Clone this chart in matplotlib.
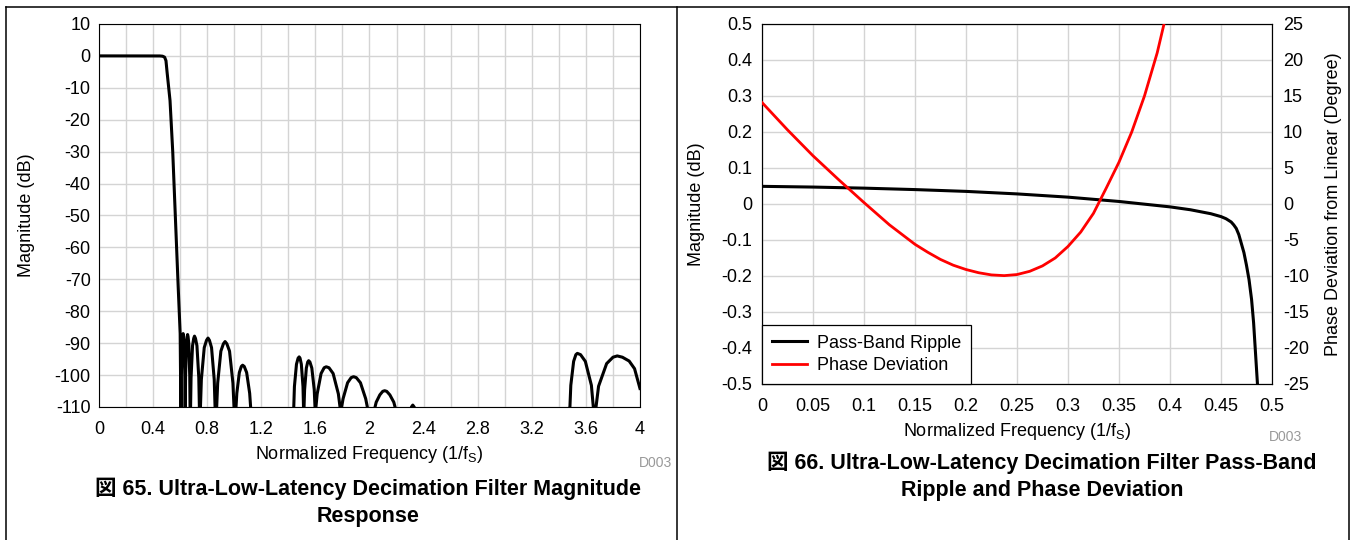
import matplotlib
matplotlib.use("Agg")
import matplotlib.pyplot as plt
from matplotlib.lines import Line2D

plt.rcParams['font.family'] = ['Liberation Sans', 'Noto Sans CJK JP', 'DejaVu Sans']
plt.rcParams['mathtext.fontset'] = 'custom'
plt.rcParams['mathtext.rm'] = 'Liberation Sans'

# --- figure 65: magnitude response ---
# -150 values are nulls that fall below the plotted range
mag_freq = [0, 0.1, 0.2, 0.3, 0.4, 0.45, 0.47, 0.485, 0.495, 0.503, 0.525, 0.545, 0.564, 0.585, 0.600, 0.605,
            0.606,
            0.607, 0.6088, 0.6145, 0.619, 0.622, 0.6248, 0.629, 0.6343, 0.636, 0.637,
            0.638, 0.640, 0.6465, 0.6516, 0.655, 0.6586, 0.664, 0.6708, 0.673, 0.675,
            0.677, 0.6805, 0.6915, 0.7002, 0.706, 0.7132, 0.724, 0.7377, 0.742, 0.746,
            0.750, 0.7567, 0.778, 0.7948, 0.806, 0.8164, 0.832, 0.8518, 0.858, 0.864,
            0.870, 0.8774, 0.901, 0.9196, 0.932, 0.9452, 0.965, 0.9901, 0.998, 1.005,
            1.013, 1.0189, 1.0375, 1.0522, 1.062, 1.0738, 1.0915, 1.1139, 1.121, 1.3,
            1.440, 1.4448, 1.460, 1.472, 1.480, 1.4864, 1.496, 1.5082, 1.512, 1.514,
            1.516, 1.5201, 1.533, 1.5432, 1.550, 1.5594, 1.5735, 1.5914, 1.597, 1.600,
            1.604, 1.6131, 1.642, 1.6648, 1.680, 1.7004, 1.731, 1.7698, 1.782, 1.788,
            1.794, 1.8046, 1.838, 1.8644, 1.882, 1.9024, 1.933, 1.9718, 1.984, 2.01,
            2.041, 2.0495, 2.0765, 2.0978, 2.112, 2.1274, 2.1505, 2.1798, 2.189, 2.25,
            2.310, 2.320, 2.330, 2.9,
            3.482, 3.4886, 3.5095, 3.526, 3.537, 3.5606, 3.596, 3.6408, 3.655, 3.665,
            3.675, 3.6938, 3.7535, 3.8006, 3.832, 3.87, 3.92, 3.96, 4.0]
mag_db = [0, 0, 0, 0, 0, -0.02, -0.1, -0.4, -1.5, -5, -14, -30, -50, -72, -87, -110,
          -150,
          -110, -100.0, -90.0, -87.7, -87.0, -87.7, -90.0, -100.0, -110, -150,
          -110, -100.3, -90.3, -88.0, -87.3, -88.0, -90.3, -100.3, -110, -150,
          -110, -100.8, -90.8, -88.5, -87.8, -88.5, -90.8, -100.8, -110, -150,
          -110, -101.4, -91.4, -89.1, -88.4, -89.1, -91.4, -101.4, -110, -150,
          -110, -102.5, -92.5, -90.2, -89.5, -90.2, -92.5, -102.5, -110, -150,
          -110, -105.7, -99.2, -97.3, -96.9, -97.3, -99.2, -105.7, -110, -150,
          -110, -103.6, -96.6, -94.7, -94.3, -94.7, -96.6, -103.6, -110, -150,
          -110, -104.6, -97.8, -95.9, -95.5, -95.9, -97.8, -104.6, -110, -150,
          -110, -105.9, -99.5, -97.7, -97.4, -97.7, -99.5, -105.9, -110, -150,
          -110, -107.4, -102.4, -100.8, -100.5, -100.8, -102.4, -107.4, -110, -150,
          -110, -108.5, -106.2, -105.1, -104.9, -105.1, -106.2, -108.5, -110, -150,
          -110, -109.4, -110, -150,
          -110, -103.2, -95.7, -93.6, -93.2, -93.6, -95.7, -103.2, -110, -150,
          -110, -103.5, -96.4, -94.4, -94.0, -94.4, -95.6, -98.0, -104.2]

mag_xticks = [0, 0.4, 0.8, 1.2, 1.6, 2.0, 2.4, 2.8, 3.2, 3.6, 4.0]
mag_xlabels = ['0', '0.4', '0.8', '1.2', '1.6', '2', '2.4', '2.8', '3.2', '3.6', '4']
mag_yticks = [10, 0, -10, -20, -30, -40, -50, -60, -70, -80, -90, -100, -110]

# --- figure 66: pass-band ripple and phase deviation ---
ripple_freq = [0, 0.05, 0.1, 0.15, 0.2, 0.25, 0.3, 0.35, 0.4, 0.42, 0.44, 0.45, 0.455, 0.46, 0.4625, 0.465,
               0.4675, 0.47, 0.4725, 0.475, 0.4775, 0.48, 0.482, 0.484, 0.486, 0.488]
ripple_db = [0.049, 0.047, 0.044, 0.040, 0.035, 0.028, 0.019, 0.007, -0.008, -0.016, -0.027, -0.035, -0.041,
             -0.05, -0.058, -0.068, -0.085, -0.11, -0.135, -0.17, -0.21, -0.265, -0.33, -0.42, -0.51, -0.6]

phase_freq = [0, 0.025, 0.05, 0.075, 0.1, 0.125, 0.15, 0.1625, 0.175, 0.1875, 0.2, 0.2125, 0.225, 0.2375,
              0.25, 0.2625, 0.275, 0.2875, 0.3, 0.3125, 0.325, 0.3375, 0.35, 0.3625, 0.375, 0.3875, 0.40]
phase_deg = [14.1, 10.3, 6.7, 3.4, 0.2, -2.9, -5.6, -6.7, -7.7, -8.5, -9.1, -9.55, -9.85, -9.95,
             -9.8, -9.35, -8.6, -7.5, -5.9, -3.9, -1.3, 2.2, 5.8, 10.0, 15.0, 21.0, 28.5]

rip_xticks = [0, 0.05, 0.1, 0.15, 0.2, 0.25, 0.3, 0.35, 0.4, 0.45, 0.5]
rip_xlabels = ['0', '0.05', '0.1', '0.15', '0.2', '0.25', '0.3', '0.35', '0.4', '0.45', '0.5']
rip_yticks = [0.5, 0.4, 0.3, 0.2, 0.1, 0, -0.1, -0.2, -0.3, -0.4, -0.5]
rip_ylabels = ['0.5', '0.4', '0.3', '0.2', '0.1', '0', '-0.1', '-0.2', '-0.3', '-0.4', '-0.5']
phase_yticks = [25, 20, 15, 10, 5, 0, -5, -10, -15, -20, -25]

fs = 13
grid_color = '#d4d4d4'
xlabel_text = 'Normalized Frequency (1/f$_\\mathregular{S}$)'

fig = plt.figure(figsize=(13.51, 5.40), dpi=100)

# left chart
ax1 = fig.add_axes([0.0733, 0.2463, 0.4004, 0.7093])
ax1.plot(mag_freq, mag_db, color='black', lw=2.2, solid_joinstyle='round', zorder=3)
ax1.set_xlim(0, 4)
ax1.set_ylim(-110, 10)
ax1.set_xticks(mag_xticks)
ax1.set_xticklabels(mag_xlabels)
ax1.set_xticks([0.2 + 0.4 * i for i in range(10)], minor=True)
ax1.set_yticks(mag_yticks)
ax1.set_yticklabels([str(v) for v in mag_yticks])
ax1.grid(True, which='both', color=grid_color, lw=1)
ax1.set_axisbelow(True)
ax1.tick_params(which='both', length=0, labelsize=fs)
ax1.tick_params(axis='x', pad=10)
ax1.tick_params(axis='y', pad=6)
ax1.set_xlabel(xlabel_text, fontsize=fs)
ax1.set_ylabel('Magnitude (dB)', fontsize=fs)
ax1.yaxis.set_label_coords(-0.118, 0.5)
ax1.xaxis.set_label_coords(0.5, -0.097)

# right chart
ax2 = fig.add_axes([0.5640, 0.2889, 0.3775, 0.6667])
l1, = ax2.plot(ripple_freq, ripple_db, color='black', lw=2.2, label='Pass-Band Ripple', zorder=3)
ax2.set_xlim(0, 0.5)
ax2.set_ylim(-0.5, 0.5)
ax2.set_xticks(rip_xticks)
ax2.set_xticklabels(rip_xlabels)
ax2.set_yticks(rip_yticks)
ax2.set_yticklabels(rip_ylabels)
ax2.grid(True, color=grid_color, lw=1)
ax2.set_axisbelow(True)
ax2.tick_params(length=0, labelsize=fs)
ax2.tick_params(axis='x', pad=10)
ax2.tick_params(axis='y', pad=7)
ax2.set_xlabel(xlabel_text, fontsize=fs)
ax2.set_ylabel('Magnitude (dB)', fontsize=fs)
ax2.yaxis.set_label_coords(-0.112, 0.5)
ax2.xaxis.set_label_coords(0.5, -0.103)

ax3 = ax2.twinx()
l2, = ax3.plot(phase_freq, phase_deg, color='#ff0000', lw=2.0, label='Phase Deviation', zorder=3)
ax3.set_ylim(-25, 25)
ax3.set_yticks(phase_yticks)
ax3.set_yticklabels([str(v) for v in phase_yticks])
ax3.tick_params(length=0, labelsize=fs, pad=8)
ax3.set_ylabel('Phase Deviation from Linear (Degree)', fontsize=fs)
ax3.yaxis.set_label_coords(1.104, 0.5)

leg = ax3.legend([l1, l2], ['Pass-Band Ripple', 'Phase Deviation'], loc='lower left', fontsize=fs,
                 frameon=True, fancybox=False, borderaxespad=0, handlelength=1.95, handletextpad=0.55,
                 labelspacing=0.3, borderpad=0.55)
leg.get_frame().set_edgecolor('black')
leg.get_frame().set_linewidth(0.9)
leg.get_frame().set_alpha(1)

# small figure ids
fig.text(655 / 1351, 1 - 463 / 540, 'D003', fontsize=10, color='#999999', ha='center', va='center')
fig.text(1285 / 1351, 1 - 437 / 540, 'D003', fontsize=10, color='#999999', ha='center', va='center')

# captions
fig.text(368 / 1351, 1 - 502 / 540, '図 65. Ultra-Low-Latency Decimation Filter Magnitude\nResponse',
         fontsize=15.5, fontweight='bold', ha='center', va='center', linespacing=1.38)
fig.text(1042 / 1351, 1 - 476.5 / 540, '図 66. Ultra-Low-Latency Decimation Filter Pass-Band\nRipple and Phase Deviation',
         fontsize=15.5, fontweight='bold', ha='center', va='center', linespacing=1.38)

# table frame around the two figures
top = 1 - 7 / 540
for xf in [6 / 1351, 677 / 1351, 1349 / 1351]:
    fig.add_artist(Line2D([xf, xf], [0, top], color='black', lw=1.1))
fig.add_artist(Line2D([6 / 1351, 1349 / 1351], [top, top], color='black', lw=1.1))

fig.savefig('out.png', dpi=100)
